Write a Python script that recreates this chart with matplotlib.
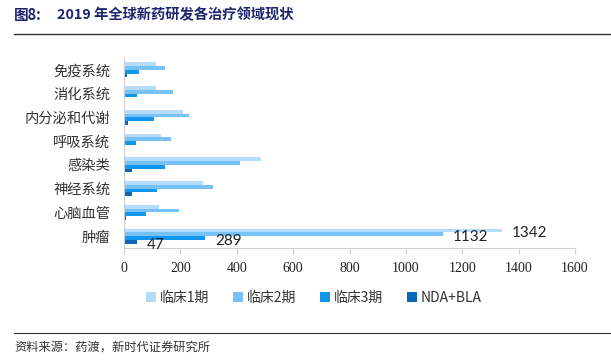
import numpy as np
import matplotlib.pyplot as plt
from matplotlib.patches import Patch
from matplotlib.lines import Line2D

plt.rcParams['font.family'] = ['Noto Sans CJK SC', 'DejaVu Sans']

# categories from bottom to top
categories = ['肿瘤', '心脑血管', '神经系统', '感染类', '呼吸系统', '内分泌和代谢', '消化系统', '免疫系统']
phase1 = [1342, 125, 281, 486, 130, 208, 115, 115]
phase2 = [1132, 196, 317, 411, 167, 230, 175, 144]
phase3 = [289, 78, 117, 144, 41, 106, 45, 52]
nda_bla = [47, 6, 27, 30, 0, 15, 3, 10]
series_names = ['临床1期', '临床2期', '临床3期', 'NDA+BLA']
xticks = [0, 200, 400, 600, 800, 1000, 1200, 1400, 1600]

colors = ['#b5dcfb', '#76c1f5', '#1196f0', '#0868b5']

fig = plt.figure(figsize=(6.11, 3.61), dpi=100)
ax = fig.add_axes([124 / 611, 1 - 248 / 361, 451 / 611, 190 / 361])

y = np.arange(len(categories))
h = 0.16
series = [phase1, phase2, phase3, nda_bla]
offsets = [1.5 * h, 0.5 * h, -0.5 * h, -1.5 * h]
bars = []
for vals, off, c in zip(series, offsets, colors):
    bars.append(ax.barh(y + off, vals, height=h, color=c, linewidth=0))

# data labels only for the first category (肿瘤)
for b, vals in zip(bars, series):
    rect = b[0]
    ax.annotate(str(vals[0]), (rect.get_width(), rect.get_y() + rect.get_height() / 2),
                xytext=(7, -2), textcoords='offset points', va='center', ha='left',
                fontsize=11, family=['Lato', 'DejaVu Sans'], color='#222222')

ax.set_xlim(0, 1600)
ax.set_ylim(-0.5, len(categories) - 0.5)
ax.set_xticks(xticks)
ax.set_xticklabels([str(t) for t in xticks], family=['Liberation Serif'], fontsize=10, color='#222222')
ax.set_yticks(y)
ax.set_yticklabels(categories, fontsize=10.3, color='#333333')
ax.tick_params(axis='y', length=0, pad=10)
ax.tick_params(axis='x', length=4, color='#d0d0d0', pad=6)
for s in ['top', 'right']:
    ax.spines[s].set_visible(False)
ax.spines['left'].set_color('#d0d0d0')
ax.spines['bottom'].set_color('#d0d0d0')

handles = [Patch(facecolor=c, edgecolor='none') for c in colors]
fig.legend(handles, series_names, loc='center', bbox_to_anchor=(314 / 611, 1 - 298 / 361),
           ncol=4, frameon=False, fontsize=10, handlelength=0.7, handleheight=0.7,
           handletextpad=0.3, columnspacing=1.7, labelcolor='#333333')

# title and footer
fig.text(14 / 611, 1 - 15 / 361, '图8:', fontsize=10.5, weight='bold', color='#1c2470', va='center')
fig.text(57 / 611, 1 - 15 / 361, '2019 年全球新药研发各治疗领域现状', fontsize=10.3, weight='bold',
         color='#1c2470', va='center')
fig.add_artist(Line2D([14 / 611, 1], [1 - 34 / 361, 1 - 34 / 361], color='#333333', lw=1))
fig.add_artist(Line2D([14 / 611, 1], [1 - 333 / 361, 1 - 333 / 361], color='#333333', lw=0.8))
fig.text(14 / 611, 1 - 347 / 361, '资料来源：药渡，新时代证券研究所', fontsize=8.8, color='#333333', va='center')

fig.savefig('out.png', dpi=100)
